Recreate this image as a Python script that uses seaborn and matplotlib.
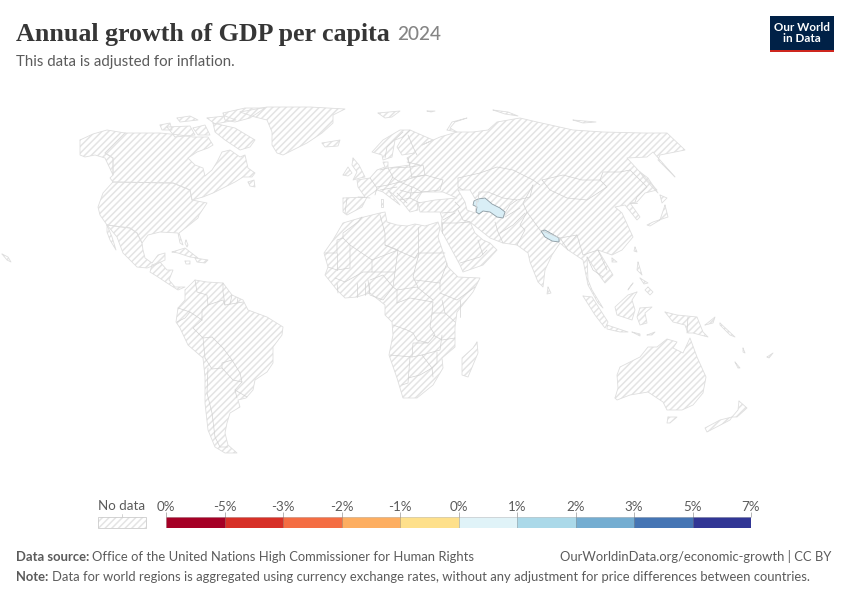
import matplotlib
matplotlib.use("Agg")
import matplotlib.pyplot as plt
from matplotlib.patches import Rectangle
import pandas as pd
import seaborn as sns

# Legend bins
BIN_IDS = list(range(10))
BIN_EDGES = ["0%", "-5%", "-3%", "-2%", "-1%", "0%", "1%", "2%", "3%", "5%", "7%"]
BIN_COLORS = ["#a50026", "#d73027", "#f46d43", "#fdae61", "#fee08b",
              "#e0f3f8", "#abd9e9", "#74add1", "#4575b4", "#313695"]

# Outlines (x, y in image pixels)
alaska = [(80,140),(93,134),(107,130),(125,133),(105,153),(113,158),(113,175),(105,158),(95,155),(85,157),(80,155)]
canada = [(125,133),(152,133),(160,133),(180,135),(193,137),(208,137),(213,145),(208,148),(197,152),(188,158),(195,165),(203,168),(205,176),(212,170),(217,162),(222,152),(230,150),(240,157),(245,155),(248,168),(255,173),(252,177),(243,177),(235,182),(223,188),(213,193),(203,197),(192,200),(190,190),(173,183),(113,182),(110,178),(113,175),(113,158),(105,153)]
usa = [(113,182),(173,183),(190,190),(192,200),(207,203),(199,215),(198,218),(183,230),(179,233),(183,245),(180,243),(178,233),(160,232),(148,235),(142,243),(137,233),(130,228),(122,227),(107,225),(100,215),(98,207),(103,193),(112,183)]
mexico = [(107,225),(122,227),(130,228),(137,233),(142,243),(143,250),(145,258),(152,263),(158,255),(165,253),(165,260),(155,265),(147,268),(137,267),(123,253),(117,237)]
baja = [(107,225),(112,237),(116,250),(110,240),(107,232)]
central_am = [(152,265),(160,262),(167,270),(173,270),(169,280),(175,287),(185,287),(178,290),(167,283),(158,277),(150,272)]
newfoundland = [(248,182),(254,180),(255,187),(250,186)]
baffin = [(213,123),(235,128),(255,140),(250,147),(240,150),(225,140),(215,132)]
victoria = [(167,127),(190,126),(195,135),(175,137)]
banks = [(160,125),(170,123),(172,130),(162,130)]
ellesmere = [(223,113),(245,108),(265,108),(250,118),(235,122),(225,120)]
arctic_a = [(177,118),(190,116),(198,120),(180,122)]
arctic_b = [(207,118),(225,116),(236,120),(215,124)]
arctic_c = [(193,128),(205,125),(210,135),(198,135)]
greenland = [(240,112),(267,107),(310,107),(345,109),(333,115),(333,123),(322,133),(307,143),(283,155),(277,153),(272,145),(272,132),(267,120),(255,117)]
iceland = [(322,143),(340,140),(338,146),(325,147)]
svalbard = [(378,113),(400,111),(392,117),(385,118)]
cuba = [(172,252),(185,248),(198,258),(190,257),(178,253)]
hispaniola = [(195,258),(208,260),(205,263),(197,262)]
jamaica = [(185,261),(190,261),(190,264),(186,264)]
bahamas = [(186,240),(188,245),(187,247),(185,243)]
hawaii = [(2,254),(8,257),(11,262),(7,260)]
south_am = [(185,290),(195,280),(207,282),(223,283),(232,295),(243,300),(248,310),(267,317),(283,327),(282,335),(273,347),(273,363),(267,372),(255,380),(253,390),(246,398),(238,400),(240,407),(230,413),(227,423),(225,433),(228,445),(237,453),(225,453),(215,447),(208,430),(205,403),(205,377),(203,358),(188,345),(180,328),(176,322),(178,308),(185,300)]
africa = [(360,218),(380,213),(385,212),(387,222),(397,225),(407,226),(415,224),(425,226),(438,222),(440,228),(438,237),(448,267),(458,277),(480,278),(473,292),(457,312),(455,327),(455,347),(442,358),(443,368),(433,385),(417,398),(403,398),(397,378),(389,355),(393,335),(392,322),(385,315),(385,305),(370,293),(357,297),(345,298),(337,290),(325,275),(328,267),(324,253),(333,240),(343,223)]
madagascar = [(477,342),(478,353),(468,377),(462,375),(462,358),(473,348)]
eurasia = [(343,198),(365,197),(358,187),(357,180),(370,178),(377,170),(385,167),(383,162),(388,162),(388,168),(410,165),(407,158),(415,153),(402,155),(397,147),(403,137),(395,140),(392,157),(383,160),(382,155),(372,152),(383,140),(400,130),(410,130),(433,140),(422,145),(440,137),(457,132),(473,132),(488,130),(497,122),(520,118),(537,122),(573,130),(603,132),(643,133),(667,133),(685,150),(660,155),(658,160),(675,177),(667,168),(660,160),(653,152),(647,157),(627,158),(638,170),(657,190),(645,193),(637,202),(630,203),(640,217),(637,220),(625,205),(615,207),(622,213),(633,237),(622,250),(612,255),(598,250),(613,275),(605,283),(597,272),(587,257),(588,280),(592,290),(603,308),(598,303),(588,285),(583,260),(568,250),(560,243),(552,255),(545,270),(543,287),(538,282),(530,262),(528,253),(517,245),(503,243),(490,238),(480,230),(470,222),(475,233),(483,240),(490,243),(497,250),(483,265),(463,272),(460,265),(441,230),(442,218),(440,212),(420,212),(418,203),(435,200),(457,198),(443,192),(422,192),(417,200),(418,210),(410,212),(402,202),(388,190),(400,205),(383,192),(377,190),(367,197),(362,207),(347,215),(343,212)]
caspian = [(458,190),(470,190),(477,202),(475,213),(467,210),(465,202)]
uk = [(353,158),(359,165),(365,177),(360,178),(353,180),(357,172),(352,165)]
ireland = [(343,175),(348,167),(352,173),(348,176)]
italy_isl = [(381,199),(383,199),(383,207),(381,207)]
novaya = [(447,130),(452,122),(467,118),(455,122),(450,128),(457,132)]
sev_a = [(493,110),(508,112),(518,116),(505,114)]
sev_b = [(427,111),(435,111),(431,112)]
sev_c = [(573,120),(596,122),(583,123)]
sakhalin = [(640,172),(648,178),(658,193),(655,190),(644,178)]
hokkaido = [(660,195),(667,198),(662,203)]
honshu = [(665,205),(668,217),(653,222),(647,225),(650,226),(660,220)]
taiwan = [(635,247),(637,252),(634,251)]
hainan = [(612,258),(617,262),(612,262)]
sri_lanka = [(548,287),(551,293),(547,294)]
luzon = [(638,262),(642,275),(637,270)]
mindanao = [(648,287),(653,292),(650,295),(645,290)]
visayas = [(640,278),(648,283),(644,284)]
palawan = [(633,283),(628,290),(629,288)]
sumatra = [(583,296),(592,297),(608,322),(605,328),(595,315)]
java = [(607,325),(628,332),(620,332),(607,329)]
borneo = [(637,292),(628,295),(615,307),(617,315),(632,320),(635,310),(632,300)]
sulawesi = [(640,308),(652,307),(645,313),(647,323),(640,325),(637,317)]
new_guinea = [(665,312),(677,315),(697,317),(703,332),(708,337),(693,333),(688,333),(685,325),(673,322)]
new_britain = [(705,325),(715,317),(713,323)]
solomons = [(720,323),(735,337),(730,335),(720,325)]
sunda_a = [(632,332),(640,334),(640,336)]
sunda_b = [(647,335),(655,332),(652,335)]
new_cal = [(735,362),(740,368),(738,368)]
vanuatu = [(743,348),(745,353),(743,352)]
fiji = [(767,357),(773,353),(769,358)]
australia = [(615,398),(618,388),(617,375),(620,367),(640,357),(648,347),(657,347),(667,339),(677,342),(673,348),(683,353),(690,338),(697,357),(706,377),(703,393),(693,405),(682,410),(667,410),(663,402),(648,392),(630,395),(617,400)]
tasmania = [(668,417),(677,417),(670,423),(667,423)]
nz_north = [(739,401),(747,408),(737,417),(732,417),(738,410)]
nz_south = [(732,417),(730,420),(707,432),(705,428),(720,420)]

LAND = [alaska, canada, usa, mexico, baja, central_am, newfoundland, baffin, victoria, banks,
        ellesmere, arctic_a, arctic_b, arctic_c, greenland, iceland, svalbard, cuba, hispaniola,
        jamaica, bahamas, hawaii, south_am, africa, madagascar, eurasia, uk, ireland, italy_isl,
        novaya, sev_a, sev_b, sev_c, sakhalin, hokkaido, honshu, taiwan, hainan, sri_lanka, luzon,
        mindanao, visayas, palawan, sumatra, java, borneo, sulawesi, new_guinea, new_britain,
        solomons, sunda_a, sunda_b, new_cal, vanuatu, fiji, australia, tasmania, nz_north, nz_south]

# Country borders
BORDERS = [
    # South America
    [(195,280),(197,292),(207,295),(208,305)], [(202,320),(202,310),(208,305),(223,300),(225,305),(237,303),(243,302)],
    [(223,283),(223,292),(225,305)], [(232,295),(230,304)], [(238,298),(237,303)],
    [(178,308),(190,312),(202,320)], [(177,322),(185,318),(190,312)], [(202,320),(193,328),(203,338),(212,337)],
    [(203,338),(205,358)], [(212,337),(223,348),(232,360),(222,363),(222,368),(212,369),(205,358)],
    [(232,360),(240,373),(242,382),(233,380),(222,368)], [(208,368),(207,393),(212,413),(215,437),(220,447),(228,447)],
    [(242,382),(235,390),(237,398)], [(235,390),(247,397)],
    # Africa
    [(362,217),(358,222),(343,233),(343,238)], [(325,253),(337,253),(337,240),(343,238),(350,245),(372,260)],
    [(350,245),(350,268),(337,270),(328,267)], [(337,253),(337,270)],
    [(372,260),(372,272),(363,272),(345,282),(335,278)], [(380,215),(385,233),(385,245),(398,250),(372,260)],
    [(398,250),(395,272),(372,272)], [(418,227),(418,257)], [(385,245),(415,258),(418,253),(445,253)],
    [(418,257),(413,277),(418,287)], [(415,280),(440,283)], [(447,263),(440,282),(440,290)],
    [(440,293),(457,300),(475,287)], [(460,300),(460,317)], [(370,280),(383,275),(393,287),(383,300),(370,295),(368,280)],
    [(337,283),(338,293)], [(357,283),(357,297)], [(365,283),(365,295)], [(370,283),(369,293)],
    [(395,272),(393,287),(397,290),(397,303)], [(397,290),(417,287),(433,300)],
    [(397,303),(410,298),(433,302),(432,313),(430,327),(435,335),(428,343),(417,340),(413,333),(407,330),(393,325)],
    [(442,300),(445,313)], [(432,313),(445,313),(455,322)], [(455,338),(442,340),(433,335)],
    [(390,355),(412,357),(413,343),(428,343)], [(412,357),(422,355),(440,350),(442,335)],
    [(437,352),(437,363),(432,368),(433,377)], [(410,357),(408,383),(402,385)], [(408,378),(420,375),(432,368)],
    [(422,355),(432,368)], [(688,317),(687,333)],
    # Europe
    [(347,198),(345,213)], [(358,197),(370,198)], [(370,178),(377,188),(375,195)],
    [(380,170),(388,168),(393,177),(388,185),(377,187)], [(392,168),(410,167),(412,178),(400,182),(392,177)],
    [(408,158),(410,167)], [(407,162),(420,165)], [(410,167),(423,165),(425,175),(412,177)],
    [(412,178),(425,175),(443,180),(440,190),(422,192),(413,187)], [(408,135),(413,147),(417,155)],
    [(385,158),(387,147),(403,132)], [(403,137),(410,130)], [(380,190),(397,187)], [(388,185),(400,182),(412,187)],
    [(400,190),(410,193),(422,192)], [(400,200),(410,198),(420,203)], [(397,193),(407,203)], [(412,187),(410,198)],
    # Middle East
    [(455,202),(460,207),(453,212),(442,213)], [(458,210),(463,220),(470,222)], [(443,220),(455,213)],
    [(443,223),(457,223),(470,222)], [(442,222),(442,233)], [(460,263),(480,257),(487,250)], [(478,240),(483,255)],
    [(495,222),(498,232),(503,243)], [(525,213),(513,225),(500,233)], [(505,217),(520,208)],
    # Central and East Asia
    [(458,178),(480,173),(497,167),(513,170),(533,180),(540,185)], [(533,185),(530,197),(517,200),(503,198),(488,192),(479,192),(478,202)],
    [(458,178),(458,187),(463,190)], [(505,213),(510,205),(517,200)],
    [(542,180),(563,175),(582,180),(600,180),(607,187),(587,200),(567,198),(550,190),(542,180)],
    [(600,180),(603,172),(620,172),(630,170),(647,187),(637,197),(635,202)], [(630,203),(637,203)],
    [(533,185),(523,203),(527,212),(540,230),(560,238),(577,235),(583,255),(598,250)],
    [(560,238),(568,250)], [(598,250),(607,270)], [(587,257),(593,270),(603,277)], [(577,235),(568,245)],
    [(527,212),(520,225),(525,230),(517,245)],
]

turkmenistan = [(474,201),(478,199),(485,198),(492,204),(500,208),(505,212),(503,218),(497,217),(490,212),(483,211),(479,214),(476,212),(477,207),(473,205)]
nepal = [(541,231),(545,230),(552,234),(559,238),(559,242),(552,241),(545,237)]
HIGHLIGHT_COLOR = "#d9eef6"

sns.set_theme(style="white")
plt.rcParams["font.family"] = ["Lato", "DejaVu Sans"]
plt.rcParams["hatch.linewidth"] = 1.1

HATCH = "#e4e4e4"
OUTLINE = "#dedede"
GREY_TEXT = "#5b5b5b"


def outlines_frame(shapes, closed):
    rows = []
    for i, pts in enumerate(shapes):
        if closed:
            pts = pts + pts[:1]
        for x, y in pts:
            rows.append({"x": x, "y": y, "id": i})
    return pd.DataFrame(rows)


fig = plt.figure(figsize=(8.5, 6), dpi=100)
ax = fig.add_axes([0, 0, 1, 1])

# Land with no data
for shape in LAND:
    xs, ys = zip(*shape)
    ax.fill(xs, ys, facecolor="white", edgecolor=HATCH, hatch="/////", linewidth=0)
xs, ys = zip(*caspian)
ax.fill(xs, ys, color="white", linewidth=0)

sns.lineplot(data=outlines_frame(LAND + [caspian], True), x="x", y="y", units="id", estimator=None,
             sort=False, color=OUTLINE, linewidth=0.6, legend=False, ax=ax)
sns.lineplot(data=outlines_frame(BORDERS, False), x="x", y="y", units="id", estimator=None,
             sort=False, color="#d2d2d2", linewidth=0.5, legend=False, ax=ax)

# The two countries with data
for shape in [turkmenistan, nepal]:
    xs, ys = zip(*shape)
    ax.fill(xs, ys, facecolor=HIGHLIGHT_COLOR, edgecolor="#8c9ba3", linewidth=0.6)

ax.set_xlim(0, 850)
ax.set_ylim(600, 0)
ax.axis("off")

# Header
ax.text(16, 41, "Annual growth of GDP per capita", family="Liberation Serif", fontweight="bold",
        fontsize=18.75, color="#363636")
ax.text(397, 40, "2024", fontsize=13.7, color="#858585", fontweight="medium")
ax.text(16, 66, "This data is adjusted for inflation.", fontsize=10.8, color=GREY_TEXT)

# Logo
ax.add_patch(Rectangle((770, 16), 64, 33.5, color="#002147", linewidth=0))
ax.add_patch(Rectangle((770, 49.5), 64, 2.5, color="#ce261e", linewidth=0))
ax.text(802, 33, "Our World\nin Data", color="white", fontsize=8.4, fontweight="bold",
        ha="center", va="center", linespacing=1.0)

# No data swatch
ax.add_patch(Rectangle((98.5, 517), 48, 11, facecolor="white", edgecolor=HATCH, hatch="/////", linewidth=0))
ax.add_patch(Rectangle((98.5, 517), 48, 11, fill=False, edgecolor="#cccccc", linewidth=0.6))
ax.plot([122, 122], [514, 517], color="#cccccc", linewidth=0.6)
ax.text(122, 506.5, "No data", fontsize=9.6, color=GREY_TEXT, ha="center", va="center")

# Colour legend
lax = fig.add_axes([166 / 850, 1 - 528 / 600, 585 / 850, 11 / 600])
sns.barplot(x=BIN_IDS, y=[1] * len(BIN_IDS), hue=BIN_IDS, palette=BIN_COLORS, width=1, saturation=1,
            legend=False, edgecolor="#00000030", linewidth=0.5, ax=lax)
lax.set_xlim(-0.5, len(BIN_IDS) - 0.5)
lax.set_ylim(0, 1)
lax.set_yticks([])
lax.set_xlabel("")
lax.set_ylabel("")
lax.xaxis.tick_top()
lax.set_xticks([b - 0.5 for b in range(len(BIN_EDGES))], BIN_EDGES)
lax.tick_params(axis="x", length=3.5, width=0.6, color="#aaaaaa", pad=-0.8, labelsize=9.6, labelcolor=GREY_TEXT)
sns.despine(ax=lax, left=True, bottom=True, right=True, top=True)

# Footer
ax.text(16, 561, "Data source:", fontsize=9.36, fontweight="bold", color=GREY_TEXT)
ax.text(92, 561, "Office of the United Nations High Commissioner for Human Rights", fontsize=9.36, color=GREY_TEXT)
ax.text(831, 561, "OurWorldinData.org/economic-growth | CC BY", fontsize=9.36, color=GREY_TEXT, ha="right")
ax.text(16, 581, "Note:", fontsize=9.36, fontweight="bold", color=GREY_TEXT)
ax.text(52, 581, "Data for world regions is aggregated using currency exchange rates, without any adjustment for price differences between countries.",
        fontsize=9.36, color=GREY_TEXT)

fig.savefig("out.png", dpi=100)
